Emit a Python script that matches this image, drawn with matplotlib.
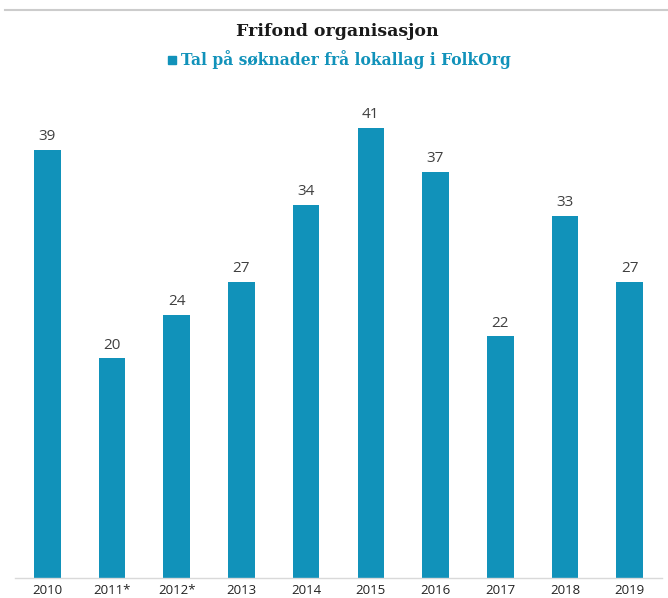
import matplotlib
matplotlib.use("Agg")
import matplotlib.pyplot as plt
from matplotlib.lines import Line2D
from matplotlib.patches import Patch

# data
YEARS = ["2010", "2011*", "2012*", "2013", "2014", "2015", "2016", "2017", "2018", "2019"]
APPLICATIONS = [39, 20, 24, 27, 34, 41, 37, 22, 33, 27]

BAR_COLOR = "#1192ba"
TITLE = "Frifond organisasjon"
SERIES_LABEL = "Tal på søknader frå lokallag i FolkOrg"

fig = plt.figure(figsize=(6.68, 5.98), dpi=100)
ax = fig.add_axes([15 / 668, 1 - 578 / 598, 647 / 668, (578 - 84) / 598])

x = range(len(YEARS))
ax.bar(x, APPLICATIONS, width=0.41, color=BAR_COLOR, zorder=2)
for xi, v in zip(x, APPLICATIONS):
    ax.annotate(str(v), (xi, v), xytext=(0, 4), textcoords="offset points",
                ha="center", va="bottom", fontsize=11, color="#404040",
                family="Open Sans")

ax.set_xlim(-0.5, len(YEARS) - 0.5)
ax.set_ylim(0, 45)
ax.set_xticks(list(x))
ax.set_xticklabels(YEARS, fontsize=9.5, family="Open Sans", color="#222222")
ax.tick_params(axis="x", length=0, pad=4)
ax.set_yticks([])
for side in ["top", "right", "left"]:
    ax.spines[side].set_visible(False)
ax.spines["bottom"].set_color("#d9d9d9")
ax.spines["bottom"].set_linewidth(1.0)

# thin grey rule along the top of the image
fig.add_artist(Line2D([5 / 668, 1], [1 - 10 / 598] * 2, color="#cccccc", lw=1.5))

fig.text(0.505, 1 - 31 / 598, TITLE, ha="center", va="center",
         fontsize=12.5, fontweight="bold", family="DejaVu Serif", color="#1a1a1a")
leg = fig.legend([Patch(color=BAR_COLOR)], [SERIES_LABEL], loc="center",
                 bbox_to_anchor=(0.508, 1 - 60 / 598), frameon=False,
                 handlelength=0.5, handleheight=0.5, handletextpad=0.3,
                 prop={"family": "DejaVu Serif", "weight": "bold", "size": 11.2})
for t in leg.get_texts():
    t.set_color(BAR_COLOR)

fig.savefig("out.png", dpi=100)
